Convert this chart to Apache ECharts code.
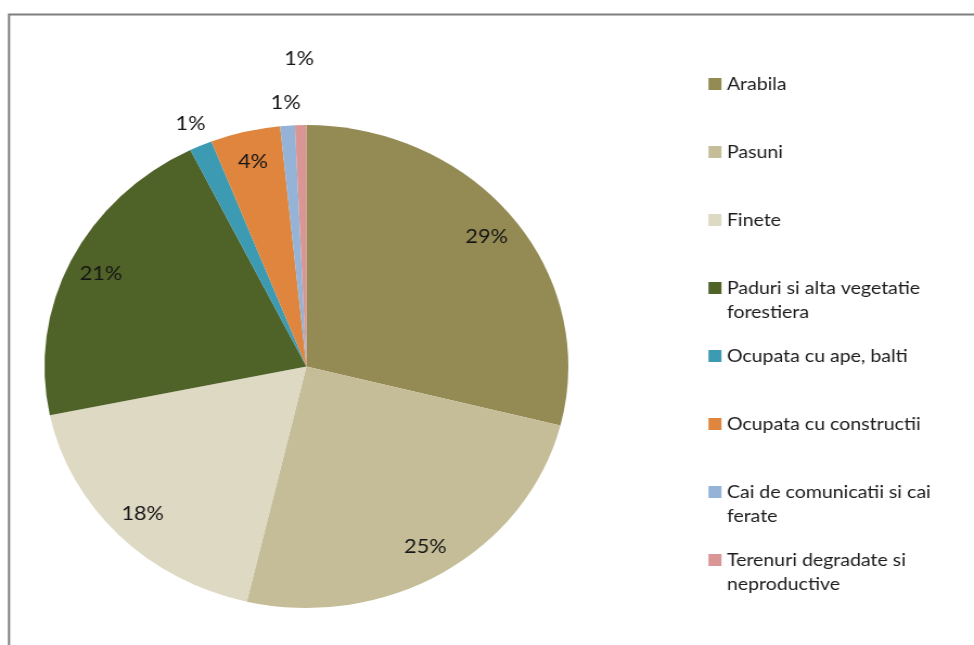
<!DOCTYPE html>
<html>
<head>
<meta charset="utf-8">
<script src="https://cdn.jsdelivr.net/npm/echarts@6/dist/echarts.min.js"></script>
<style>
  html, body { margin: 0; padding: 0; background: #fff; overflow: hidden; }
  /* the source picture is stretched a little sideways, so the chart is too */
  #main { width: 898px; height: 645px; transform: scaleX(1.0846); transform-origin: 0 0; }
</style>
</head>
<body>
<div id="main"></div>
<script>
// land use shares (labels round them)
var categories = ['Arabila', 'Pasuni', 'Finete', 'Paduri si alta vegetatie forestiera',
  'Ocupata cu ape, balti', 'Ocupata cu constructii', 'Cai de comunicatii si cai ferate',
  'Terenuri degradate si neproductive']
var values = [28.9, 24.7, 18.1, 20.9, 1.4, 4.3, 0.9, 0.7]
var colors = ['#948a54', '#c4bd97', '#ddd9c3', '#4f6228', '#3c9ab3', '#e0853d', '#95b3d7', '#d99694']

// legend text as it wraps in the original
var legendText = {
  'Paduri si alta vegetatie forestiera': 'Paduri si alta vegetatie\nforestiera',
  'Cai de comunicatii si cai ferate': 'Cai de comunicatii si cai\nferate',
  'Terenuri degradate si neproductive': 'Terenuri degradate si\nneproductive'
}
// which ring each percent label sits on: 0 inside, 1 just outside, 2 further out
var labelRing = [0, 0, 0, 0, 1, 0, 1, 2]

var R = 241.5
var center = [282.5, 366.5]
var font = 'Lato, "Open Sans", sans-serif'

function ringSeries (ring, radius) {
  return {
    type: 'pie',
    silent: true,
    center: center,
    radius: radius,
    startAngle: 90,
    percentPrecision: 0,
    avoidLabelOverlap: false,
    emphasis: { disabled: true },
    itemStyle: { color: 'transparent', borderWidth: 0 },
    labelLine: { show: false },
    label: {
      position: 'inside',
      formatter: '{d}%',
      color: '#161616',
      fontFamily: font,
      fontSize: 20
    },
    data: categories.map(function (name, i) {
      return { name: name, value: values[i], label: { show: labelRing[i] === ring } }
    })
  }
}

var myChart = echarts.init(document.getElementById('main'))
myChart.setOption({
  animation: false,
  backgroundColor: '#fff',
  graphic: [{
    type: 'rect',
    shape: { x: 8.3, y: 14.5, width: 2000, height: 2000 },
    style: { fill: 'none', stroke: '#7f7f7f', lineWidth: 2 }
  }],
  legend: {
    orient: 'vertical',
    left: 648.2,
    top: 67,
    itemWidth: 12,
    itemHeight: 48,
    itemGap: 20,
    // square on the first text line, empty space below it
    icon: 'path://M0,0h0.01M0,6h12v12h-12zM0,48h0.01',
    itemStyle: { borderWidth: 0 },
    textStyle: { fontFamily: font, fontSize: 18, lineHeight: 24, color: '#1c1c1c' },
    formatter: function (name) {
      return legendText[name] || name + '\n '
    },
    data: categories
  },
  series: [
    {
      type: 'pie',
      center: center,
      radius: [0, R],
      startAngle: 90,
      label: { show: false },
      labelLine: { show: false },
      itemStyle: { borderWidth: 0 },
      data: categories.map(function (name, i) {
        return { name: name, value: values[i], itemStyle: { color: colors[i] } }
      })
    },
    ringSeries(0, [174, R]),
    ringSeries(1, [238, 286]),
    ringSeries(2, [284, 327])
  ]
})
</script>
</body>
</html>
